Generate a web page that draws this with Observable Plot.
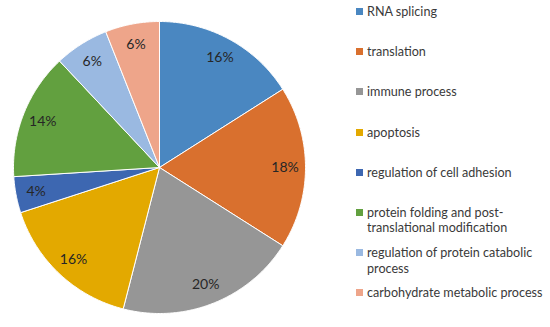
<!DOCTYPE html>
<html><head><meta charset="utf-8">
<script src="https://cdn.jsdelivr.net/npm/d3@7"></script>
<script src="https://cdn.jsdelivr.net/npm/@observablehq/plot@0.6"></script>
<style>
body{margin:0;background:#fff;}
#wrap{position:relative;width:550px;height:327px;font-family:Lato,sans-serif;}
#chart{position:absolute;left:0;top:0;}
#legend{position:absolute;left:356px;top:4px;width:194px;}
.item{height:40.2px;display:flex;align-items:flex-start;font-size:12.6px;line-height:15.5px;color:#3a3a3a;}
.sw{width:7px;height:7px;margin-top:4px;margin-right:4px;flex:none;}
</style></head><body><div id="wrap"><div id="chart"></div><div id="legend"></div></div>
<script>
const categories = ["RNA splicing","translation","immune process","apoptosis","regulation of cell adhesion","protein folding and post-translational modification","regulation of protein catabolic process","carbohydrate metabolic process"];
const values = [16,18,20,16,4,14,6,6];
const colors = ["#4a87c1","#d9702e","#969696","#e3a900","#3d67b1","#62a03f","#9ab9e1","#eea58a"];
const labels = values.map(v => v + "%");

const arcs = d3.pie().sort(null).value(d => d)(values);
const pts = [];
arcs.forEach((a, i) => {
  const n = Math.max(4, Math.ceil((a.endAngle - a.startAngle) / 0.01));
  pts.push({cat: categories[i], x: 0, y: 0});
  for (let k = 0; k <= n; k++) {
    const t = a.startAngle + (a.endAngle - a.startAngle) * k / n;
    pts.push({cat: categories[i], x: Math.sin(t), y: Math.cos(t)});
  }
  pts.push({cat: categories[i], x: 0, y: 0});
});
const lab = arcs.map((a, i) => {
  const m = (a.startAngle + a.endAngle) / 2;
  return {x: 0.86 * Math.sin(m), y: 0.86 * Math.cos(m), t: labels[i]};
});

const chart = Plot.plot({
  width: 320, height: 327, margin: 0,
  style: {fontFamily: "Lato, sans-serif", background: "transparent"},
  x: {domain: [-1, 1], range: [13, 305], axis: null},
  y: {domain: [-1, 1], range: [313, 21], axis: null},
  color: {domain: categories, range: colors},
  marks: [
    Plot.line(pts, {x: "x", y: "y", z: "cat", fill: "cat", stroke: "white", strokeWidth: 1, curve: "linear"}),
    Plot.text(lab, {x: "x", y: "y", text: "t", fontSize: 14, fill: "#262626"})
  ]
});
document.getElementById("chart").appendChild(chart);

const leg = document.getElementById("legend");
categories.forEach((c, i) => {
  const it = document.createElement("div"); it.className = "item";
  const sw = document.createElement("div"); sw.className = "sw"; sw.style.background = colors[i];
  const tx = document.createElement("div"); tx.textContent = c;
  it.appendChild(sw); it.appendChild(tx); leg.appendChild(it);
});
</script></body></html>
